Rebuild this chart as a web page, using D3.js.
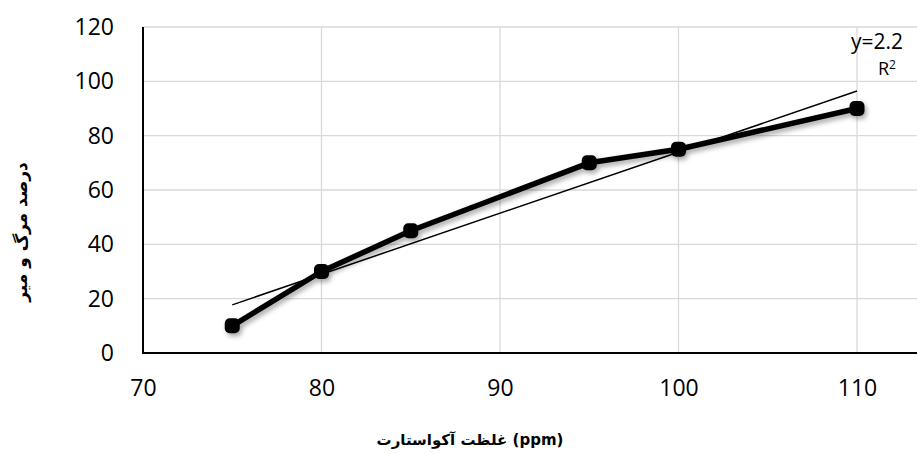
<!DOCTYPE html>
<html><head><meta charset="utf-8">
<script src="https://cdn.jsdelivr.net/npm/d3@7"></script>
<style>body{margin:0;background:#fff;overflow:hidden}</style>
</head><body>
<svg id="c" width="917" height="454"></svg>
<script>
const xValues = [75, 80, 85, 95, 100, 110];
const yValues = [10, 30, 45, 70, 75, 90];
const xTicks = [70, 80, 90, 100, 110];
const yTicks = [0, 20, 40, 60, 80, 100, 120];
const xTitle = "غلظت آکواستارت (ppm)";
const yTitle = "درصد مرگ و میر";
const eqLabel = "y=2.2";   // visible part of trendline equation label
const r2Label = "R";       // visible part of R² label

const svg = d3.select("#c");
const x = d3.scaleLinear().domain([70, 110]).range([143, 857]);
const y = d3.scaleLinear().domain([0, 120]).range([353, 27]);
const font = "'Open Sans', 'Liberation Sans', sans-serif";

const defs = svg.append("defs");
const f = defs.append("filter").attr("id", "sh").attr("x", "-20%").attr("y", "-20%").attr("width", "140%").attr("height", "160%");
f.append("feDropShadow").attr("dx", 2).attr("dy", 3).attr("stdDeviation", 2.5).attr("flood-color", "#000").attr("flood-opacity", 0.35);

// gridlines
svg.append("g").selectAll("line").data(yTicks.filter(d => d > 0)).join("line")
  .attr("x1", 143).attr("x2", 917).attr("y1", d => y(d)).attr("y2", d => y(d))
  .attr("stroke", "#d9d9d9").attr("stroke-width", 1.3);
svg.append("g").selectAll("line").data(xTicks.filter(d => d > 70)).join("line")
  .attr("x1", d => x(d)).attr("x2", d => x(d)).attr("y1", 27).attr("y2", 353)
  .attr("stroke", "#d9d9d9").attr("stroke-width", 1.3);

// axes
const xAxis = svg.append("g").attr("transform", "translate(0,353)")
  .call(d3.axisBottom(x).tickValues(xTicks).tickSize(0).tickPadding(27));
xAxis.select(".domain").remove();
svg.append("line").attr("x1", 142).attr("x2", 917).attr("y1", 353).attr("y2", 353).attr("stroke", "#000").attr("stroke-width", 2);
const yAxis = svg.append("g").attr("transform", "translate(143,0)")
  .call(d3.axisLeft(y).tickValues(yTicks).tickSize(0).tickPadding(29));
yAxis.select(".domain").remove();
svg.append("line").attr("x1", 143).attr("x2", 143).attr("y1", 27).attr("y2", 354).attr("stroke", "#000").attr("stroke-width", 2);
svg.selectAll(".tick text").attr("font-family", font).attr("font-size", 23).attr("fill", "#000");

// trendline (least squares from data)
const n = xValues.length;
const mx = d3.mean(xValues), my = d3.mean(yValues);
let sxy = 0, sxx = 0;
for (let i = 0; i < n; i++) { sxy += (xValues[i]-mx)*(yValues[i]-my); sxx += (xValues[i]-mx)**2; }
const slope = sxy / sxx, icpt = my - slope * mx;
const x0 = d3.min(xValues), x1 = d3.max(xValues);
svg.append("line").attr("x1", x(x0)).attr("y1", y(slope*x0+icpt)).attr("x2", x(x1)).attr("y2", y(slope*x1+icpt))
  .attr("stroke", "#000").attr("stroke-width", 1.5);

// series
const pts = xValues.map((v, i) => [v, yValues[i]]);
const g = svg.append("g").attr("filter", "url(#sh)");
g.append("path").datum(pts).attr("d", d3.line().x(d => x(d[0])).y(d => y(d[1])))
  .attr("fill", "none").attr("stroke", "#000").attr("stroke-width", 5.5).attr("stroke-linejoin", "round");
g.selectAll("rect").data(pts).join("rect")
  .attr("x", d => x(d[0]) - 7.5).attr("y", d => y(d[1]) - 7.5).attr("width", 15).attr("height", 15)
  .attr("rx", 5).attr("fill", "#000");

// trendline label (clipped at the chart edge in the original)
svg.append("text").attr("x", 851).attr("y", 49).attr("font-family", font).attr("font-size", 21).attr("fill", "#000").text(eqLabel);
const r = svg.append("text").attr("x", 878).attr("y", 75).attr("font-family", font).attr("font-size", 18).attr("fill", "#000");
r.append("tspan").text(r2Label);
r.append("tspan").attr("dy", -6).attr("font-size", 12).text("2");

// axis titles
svg.append("text").attr("x", 470).attr("y", 445).attr("text-anchor", "middle")
  .attr("font-family", "'DejaVu Sans', sans-serif").attr("font-weight", "bold").attr("font-size", 15).text(xTitle);
svg.append("text").attr("transform", "translate(27,232) rotate(-90)").attr("text-anchor", "middle")
  .attr("font-family", "'DejaVu Sans', sans-serif").attr("font-weight", "bold").attr("font-size", 17).text(yTitle);
</script>
</body></html>
